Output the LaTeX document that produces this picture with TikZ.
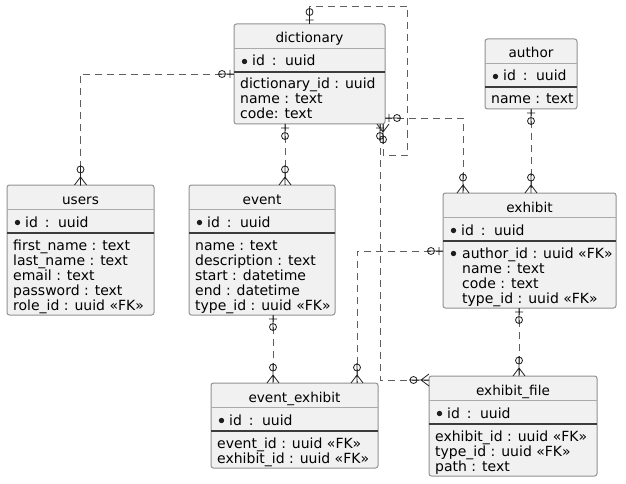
\documentclass[tikz,border=0pt]{standalone}
\usepackage{fontspec}
\setmainfont{DejaVu Sans}
\usetikzlibrary{calc}
\definecolor{entfill}{RGB}{241,241,241}
\definecolor{entdraw}{RGB}{145,145,145}
\definecolor{linkc}{RGB}{95,95,95}
\definecolor{markc}{RGB}{30,30,30}
\definecolor{sepa}{RGB}{170,170,170}
\definecolor{sepb}{RGB}{60,60,60}
\tikzset{
 ent/.style={rectangle, draw=entdraw, fill=entfill, rounded corners=2.5pt, line width=1pt, inner sep=0pt, outer sep=0pt},
 ttl/.style={font=\fontsize{13.6}{15}\selectfont, inner sep=0pt},
 rowtxt/.style={font=\fontsize{14}{15}\selectfont, inner sep=0pt},
 sepA/.style={draw=sepa, line width=1.2pt},
 sepB/.style={draw=sepb, line width=1.1pt},
 rel/.style={draw=linkc, line width=0.9pt, dash pattern=on 7pt off 5pt},
 mk/.style={draw=markc, line width=0.8pt, solid},
}
% entity box: name, x, y, width, number of rows, title
\newcommand\entbox[6]{%
 \pgfmathsetmacro\enth{70+15*(#5-1)}%
 \node[ent, minimum width=#4pt, minimum height=\enth pt, anchor=north west] (#1) at (#2,#3) {};
 \node[ttl, anchor=base] (#1-title) at ([yshift=-19pt]#1.north) {#6};
 \draw[sepA] ([yshift=-24.5pt]#1.north west) -- ([yshift=-24.5pt]#1.north east);
 \draw[sepB] ([yshift=-48pt]#1.north west) -- ([yshift=-48pt]#1.north east);
 \fill[markc] ([shift={(10.5,37.5)}]#1.north west) circle (2.7);
 \node[rowtxt, anchor=base west] (#1-id) at ([shift={(18,42)}]#1.north west) {id\hspace{2.5pt} : \hspace{2.5pt}uuid};
}
% attribute row: entity, index, indent, text
\newcommand\entrow[4]{%
 \node[rowtxt, anchor=base west] (#1-r#2) at ([shift={(#3,50+15*#2)}]#1.north west) {#4};
}
% zero-or-one marker
\newcommand\mkone[2]{\begin{scope}[shift={#1},rotate=#2]
 \draw[mk] (0,0)--(16,0) (4,-4)--(4,4) (12,0) circle (3.5);\end{scope}}
% zero-or-many marker
\newcommand\mkmany[2]{\begin{scope}[shift={#1},rotate=#2]
 \draw[mk] (0,0)--(20,0) (0,-6)--(8,0)--(0,6) (15.5,0) circle (3.5);\end{scope}}

\begin{document}
\begin{tikzpicture}[x=1pt,y=-1pt]
\fill[white] (0,0) rectangle (626,484);
\useasboundingbox (0,0) rectangle (626,484);

\entbox{dictionary}{234}{24}{151}{3}{dictionary}
\entrow{dictionary}{1}{6}{dictionary\_id : uuid}
\entrow{dictionary}{2}{6}{name : text}
\entrow{dictionary}{3}{6}{code: text}

\entbox{author}{485}{39}{92}{1}{author}
\entrow{author}{1}{6}{name : text}

\entbox{users}{7}{185}{147}{5}{users}
\entrow{users}{1}{6}{first\_name : text}
\entrow{users}{2}{6}{last\_name : text}
\entrow{users}{3}{6}{email : text}
\entrow{users}{4}{6}{password : text}
\entrow{users}{5}{6}{role\_id : uuid «FK»}

\entbox{event}{189}{185}{146}{5}{event}
\entrow{event}{1}{6}{name : text}
\entrow{event}{2}{6}{description : text}
\entrow{event}{3}{6}{start : datetime}
\entrow{event}{4}{6}{end : datetime}
\entrow{event}{5}{6}{type\_id : uuid «FK»}

\entbox{exhibit}{443}{193}{173}{4}{exhibit}
\fill[markc] ([shift={(10.5,60.5)}]exhibit.north west) circle (2.7);
\entrow{exhibit}{1}{19}{author\_id : uuid «FK»}
\entrow{exhibit}{2}{19}{name : text}
\entrow{exhibit}{3}{19}{code : text}
\entrow{exhibit}{4}{19}{type\_id : uuid «FK»}

\entbox{eventexhibit}{211}{383}{167}{2}{event\_exhibit}
\entrow{eventexhibit}{1}{6}{event\_id : uuid «FK»}
\entrow{eventexhibit}{2}{6}{exhibit\_id : uuid «FK»}

\entbox{exhibitfile}{429}{376}{168}{3}{exhibit\_file}
\entrow{exhibitfile}{1}{6}{exhibit\_id : uuid «FK»}
\entrow{exhibitfile}{2}{6}{type\_id : uuid «FK»}
\entrow{exhibitfile}{3}{6}{path : text}

% dictionary self reference
\coordinate (selfA) at ([shift={(22pt,18pt)}]dictionary.north east);
\coordinate (selfB) at ([shift={(22pt,-31pt)}]dictionary.south east);
\coordinate (selfE) at ([xshift=-2pt]dictionary.south east);
\draw[rel] (dictionary.north) |- (selfA) -- (selfB) -| (selfE);
\mkone{(dictionary.north)}{90}
\mkmany{(selfE)}{-90}

% dictionary -> users
\draw[rel] (dictionary.west) -| (users.north);
\mkone{(dictionary.west)}{180}
\mkmany{(users.north)}{90}

% dictionary -> event
\coordinate (dEv) at ([xshift=51pt]dictionary.south west);
\coordinate (evD) at (dEv |- event.north);
\draw[rel] (dEv) -- (evD);
\mkone{(dEv)}{-90}
\mkmany{(evD)}{90}

% dictionary -> exhibit
\coordinate (dEx) at ([yshift=6pt]dictionary.south east);
\coordinate (exD) at ([xshift=20pt]exhibit.north west);
\draw[rel] (dEx) -| (exD);
\mkone{(dEx)}{0}
\mkmany{(exD)}{90}

% dictionary -> exhibit_file
\coordinate (dF) at ([xshift=-5pt]dictionary.south east);
\coordinate (fD) at ([yshift=-4pt]exhibitfile.north west);
\draw[rel] (dF) |- (fD);
\mkone{(dF)}{-90}
\mkmany{(fD)}{180}

% author -> exhibit
\coordinate (exA) at (author.south |- exhibit.north);
\draw[rel] (author.south) -- (exA);
\mkone{(author.south)}{-90}
\mkmany{(exA)}{90}

% event -> event_exhibit
\coordinate (evE) at ([xshift=11pt]event.south);
\coordinate (eeE) at (evE |- eventexhibit.north);
\draw[rel] (evE) -- (eeE);
\mkone{(evE)}{-90}
\mkmany{(eeE)}{90}

% exhibit -> event_exhibit
\coordinate (exE) at ([yshift=-58pt]exhibit.north west);
\coordinate (eeX) at ([xshift=-21pt]eventexhibit.north east);
\draw[rel] (exE) -| (eeX);
\mkone{(exE)}{180}
\mkmany{(eeX)}{90}

% exhibit -> exhibit_file
\coordinate (exF) at ([xshift=-10.5pt]exhibit.south);
\coordinate (fX) at (exF |- exhibitfile.north);
\draw[rel] (exF) -- (fX);
\mkone{(exF)}{-90}
\mkmany{(fX)}{90}
\end{tikzpicture}
\end{document}
